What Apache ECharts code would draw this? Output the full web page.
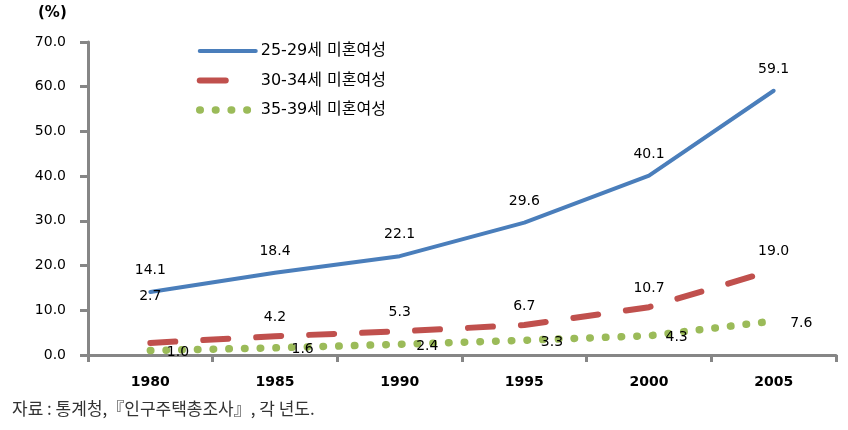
<!DOCTYPE html>
<html>
<head>
<meta charset="utf-8">
<script src="https://cdn.jsdelivr.net/npm/echarts@6/dist/echarts.min.js"></script>
<style>html,body{margin:0;padding:0;background:#fff}#c{width:848px;height:430px}</style>
</head>
<body>
<div id="c"></div>
<script>
var categories = ['1980', '1985', '1990', '1995', '2000', '2005'];
var seriesNames = ['25-29세 미혼여성', '30-34세 미혼여성', '35-39세 미혼여성'];
var age2529 = [14.1, 18.4, 22.1, 29.6, 40.1, 59.1];
var age3034 = [2.7, 4.2, 5.3, 6.7, 10.7, 19.0];
var age3539 = [1.0, 1.6, 2.4, 3.3, 4.3, 7.6];
var yTicks = [0, 10, 20, 30, 40, 50, 60, 70];
var sourceNote = '자료 : 통계청,『인구주택총조사』, 각 년도.';
var unitLabel = '(%)';

var chart = echarts.init(document.getElementById('c'));
var labelFont = { color: '#000', fontFamily: 'DejaVu Sans', fontSize: 14 };
function fmt(v) { return (typeof v === 'object' ? v.value : v).toFixed(1); }

var redData = age3034.map(function (v, i) {
  return i === 0 ? { value: v, label: { offset: [0, -28] } } : v;
});

var styles = [
  { color: '#4A7EBB', width: 4, type: 'solid', cap: 'round' },
  { color: '#C0504D', width: 6, type: [25, 28], cap: 'round' },
  { color: '#9BBB59', width: 7.5, type: [0.5, 15.2], cap: 'round' }
];
var legendStyles = [
  styles[0],
  { color: '#C0504D', width: 6, type: [26, 80], cap: 'round' },
  styles[2]
];

chart.setOption({
  animation: false,
  grid: { left: 88, right: 12, top: 42, bottom: 75 },
  legend: {
    orient: 'vertical', left: 191, top: 38, itemWidth: 56, itemHeight: 14, itemGap: 13.5,
    textStyle: { fontFamily: 'DejaVu Sans, Noto Sans CJK KR', fontSize: 16, color: '#000' },
    data: seriesNames.map(function (n, i) {
      return { name: n, lineStyle: legendStyles[i], itemStyle: { opacity: 0 } };
    })
  },
  xAxis: {
    type: 'category', data: categories, boundaryGap: true,
    axisLine: { lineStyle: { color: '#868686', width: 3 } },
    axisTick: { show: true, length: 7, lineStyle: { color: '#868686', width: 3 } },
    axisLabel: { margin: 20, color: '#000', fontFamily: 'DejaVu Sans', fontSize: 14, fontWeight: 'bold' },
    splitLine: { show: false }
  },
  yAxis: {
    type: 'value', min: 0, max: 70, interval: 10,
    axisLine: { show: true, lineStyle: { color: '#868686', width: 3 } },
    axisTick: { show: true, length: 8, lineStyle: { color: '#868686', width: 3 } },
    axisLabel: { margin: 22, color: '#000', fontFamily: 'DejaVu Sans', fontSize: 14,
      formatter: function (v) { return yTicks.indexOf(v) >= 0 ? v.toFixed(1) : ''; } },
    splitLine: { show: false }
  },
  graphic: [
    { type: 'text', left: 38, top: 6, style: { text: unitLabel, fontFamily: 'DejaVu Sans', fontSize: 15, fontWeight: 'bold', fill: '#000' } },
    { type: 'text', left: 12, top: 400, style: { text: sourceNote, fontFamily: 'Noto Sans CJK KR', fontSize: 17, fill: '#333' } }
  ],
  series: [
    {
      name: seriesNames[0], type: 'line', data: age2529,
      symbol: 'circle', symbolSize: 1, itemStyle: { color: 'rgba(0,0,0,0)', borderWidth: 0 },
      lineStyle: styles[0],
      label: Object.assign({ show: true, position: 'top', distance: 14, formatter: function (p) { return fmt(p.value); } }, labelFont)
    },
    {
      name: seriesNames[1], type: 'line', data: redData,
      symbol: 'circle', symbolSize: 1, itemStyle: { color: 'rgba(0,0,0,0)', borderWidth: 0 },
      lineStyle: styles[1],
      label: Object.assign({ show: true, position: 'top', distance: 11, formatter: function (p) { return fmt(p.value); } }, labelFont)
    },
    {
      name: seriesNames[2], type: 'line', data: age3539,
      symbol: 'circle', symbolSize: 1, itemStyle: { color: 'rgba(0,0,0,0)', borderWidth: 0 },
      lineStyle: styles[2],
      label: Object.assign({ show: true, position: 'right', distance: 16, offset: [0, 2], formatter: function (p) { return fmt(p.value); } }, labelFont)
    }
  ]
});
</script>
</body>
</html>
